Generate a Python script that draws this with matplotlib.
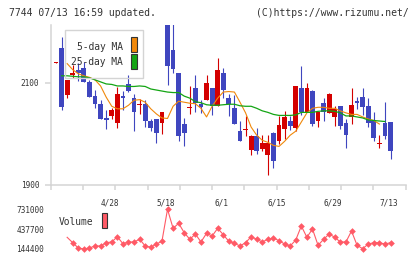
import numpy as np
import matplotlib
matplotlib.use("Agg")
import matplotlib.pyplot as plt
from matplotlib.patches import Rectangle

# ---------------- data ----------------
opens  = [2140, 2169, 2076, 2115, 2126, 2130, 2101, 2074, 2058, 2031,
          2035, 2021, 2074, 2098, 2070, 2058, 2058, 2025, 2028, 2021,
          2240, 2165, 2120, 2019, 2052, 2090, 2058, 2067, 2090, 2055,
          2120, 2070, 2050, 2005, 2008, 1968, 1995, 1969, 1958, 2001,
          1986, 2010, 2025, 2011, 2090, 2043, 2084, 2025, 2060, 2041,
          2033, 2054, 2021, 2033, 2064, 2072, 2054, 2025, 1981, 2021,
          2023]
closes = [2141, 2053, 2106, 2120, 2120, 2101, 2073, 2058, 2029, 2027,
          2047, 2078, 2071, 2085, 2043, 2059, 2025, 2011, 2002, 2043,
          2134, 2127, 1996, 2002, 2053, 2061, 2053, 2100, 2055, 2126,
          2086, 2058, 2019, 1986, 2009, 1995, 1966, 1981, 1981, 1946,
          2017, 2033, 2015, 2094, 2043, 2090, 2019, 2043, 2043, 2078,
          2049, 2015, 1998, 2056, 2060, 2052, 2021, 1992, 1982, 1996,
          1966]
highs  = [2141, 2190, 2106, 2136, 2139, 2142, 2106, 2086, 2066, 2047,
          2050, 2091, 2085, 2116, 2078, 2069, 2066, 2028, 2028, 2043,
          2260, 2260, 2120, 2030, 2093, 2116, 2066, 2116, 2090, 2150,
          2130, 2078, 2076, 2025, 2035, 1997, 2012, 1997, 1997, 2003,
          2035, 2045, 2035, 2094, 2134, 2100, 2086, 2043, 2070, 2080,
          2054, 2054, 2029, 2090, 2072, 2090, 2070, 2043, 1997, 2062,
          2023]
lows   = [2140, 2047, 2071, 2110, 2103, 2101, 2073, 2051, 2029, 2010,
          2028, 2011, 2047, 2083, 2006, 2039, 2013, 2005, 1981, 2000,
          2095, 2120, 1986, 1976, 2039, 2043, 2041, 2067, 2036, 2055,
          2070, 2035, 2019, 1986, 1996, 1958, 1961, 1965, 1918, 1932,
          1980, 1990, 2007, 2005, 2037, 2043, 2015, 2013, 2025, 2041,
          2015, 2010, 1972, 2019, 2049, 2037, 2013, 1986, 1972, 1990,
          1950]

nan = np.nan
ma5 = [nan, nan, 2138, 2126, 2118, 2114, 2111, 2106, 2094, 2072,
       2054, 2049, 2049, 2056, 2066, 2067, 2062, 2049, 2039, 2031,
       2030, 2054, 2064, 2062, 2060, 2059, 2050, 2033, 2054, 2070,
       2082, 2083, 2082, 2062, 2041, 2013, 1997, 1987, 1983, 1977,
       1975, 1985, 1997, 2005, 2023, 2041, 2050, 2052, 2052, 2050,
       2050, 2045, 2041, 2038, 2038, 2033, 2029, 2026, 2019, nan,
       nan]
ma25 = [nan, 2114, 2114, 2113, 2112, 2112, 2110, 2106, 2102, 2098,
        2097, 2094, 2094, 2093, 2093, 2094, 2093, 2088, 2086, 2084,
        2082, 2081, 2081, 2074, 2070, 2063, 2061, 2057, 2056, 2056,
        2057, 2058, 2058, 2055, 2054, 2054, 2050, 2045, 2042, 2038,
        2036, 2036, 2036, 2037, 2042, 2042, 2042, 2044, 2045, 2045,
        2044, 2041, 2035, 2035, 2033, 2031, 2027, 2026, 2025, 2024,
        nan]

volume = [nan, nan, 317000, 237500, 159000, 144400, 159000, 189000, 189000, 237500,
          248000, 326000, 223000, 248000, 248000, 288000, 189000, 170000, 218000, 258000,
          731000, 450000, 524000, 385000, 288000, 366000, 248000, 376000, 336000, 450000,
          356000, 258000, 228000, 189000, 237500, 326000, 288000, 248000, 288000, 307000,
          267000, 218000, 189000, 277000, 484000, 317000, 440000, 199000, 288000, 366000,
          317000, 248000, 248000, 410000, 199000, 149000, 218000, 237500, 237500, 218000,
          237500]

date_labels = ['4/28', '5/18', '6/1', '6/15', '6/29', '7/13']
date_index = [10, 20, 30, 40, 50, 60]
price_ticks = [1900, 2100]
vol_ticks = [144400, 437700, 731000]

# ---------------- style ----------------
W, H = 420, 259
RED = '#d40000'
BLUE = '#3f46bf'
ORANGE = '#f0880a'
GREEN = '#14a514'
VOLC = '#ff5a66'
GREY = '#d4d4d4'
TXT = '#333333'
MONO = 'DejaVu Sans Mono'

def fx(x):
    return x / W

def fy(y):
    return 1 - y / H

fig = plt.figure(figsize=(W / 100, H / 100), dpi=100)
fig.patch.set_facecolor('white')

x0, x1 = 50.7, 405.7
xlim = (-0.95, 62.72)

# ---------------- price panel ----------------
ax = fig.add_axes([fx(x0), fy(184.5), (x1 - x0) / W, (184.5 - 25) / H])
ax.set_xlim(*xlim)
ax.set_ylim(1900, 2214)

idx = np.arange(len(opens))
o = np.array(opens, float)
c = np.array(closes, float)
h = np.array(highs, float)
l = np.array(lows, float)
cols = [RED if cc >= oo else BLUE for oo, cc in zip(o, c)]

ax.vlines(idx, l, h, colors=cols, lw=0.8, zorder=2)
body_h = np.maximum(np.abs(c - o), 2.0)
body_b = np.where(np.abs(c - o) < 2.0, np.minimum(o, c) - 1.0, np.minimum(o, c))
ax.bar(idx, body_h, bottom=body_b, width=0.86, color=cols, lw=0, zorder=3)

ax.plot(idx, ma5, color=ORANGE, lw=0.8, zorder=4)
ax.plot(idx, ma25, color=GREEN, lw=0.9, zorder=4)

for s in ['top', 'right']:
    ax.spines[s].set_visible(False)
for s in ['left', 'bottom']:
    ax.spines[s].set_color(GREY)
    ax.spines[s].set_linewidth(1.1)

ax.set_yticks(price_ticks)
ax.set_yticklabels([str(t) for t in price_ticks])
ax.tick_params(axis='y', length=4.3, width=1.1, color=GREY, pad=3.9,
               labelsize=5.6, labelcolor=TXT)
for t in ax.get_yticklabels():
    t.set_family(MONO)

ax.set_xticks([d - 0.35 for d in date_index])
ax.set_xticklabels(date_labels)
ax.set_xticks(np.linspace(xlim[0], xlim[1], 12), minor=True)
ax.tick_params(axis='x', which='major', length=0, pad=10.0, labelsize=5.6, labelcolor=TXT)
ax.tick_params(axis='x', which='minor', length=3.3, width=1.1, color=GREY)
for t in ax.get_xticklabels():
    t.set_family(MONO)

# legend (drawn manually, transparent box)
fig.patches.append(Rectangle((fx(65), fy(77.7)), (143.3 - 65) / W, (77.7 - 30) / H,
                             transform=fig.transFigure, facecolor='none',
                             edgecolor=GREY, lw=1.0, zorder=10))
fig.text(fx(123), fy(46.7), '5-day MA', ha='right', va='center', family=MONO,
         fontsize=6.9, color=TXT, zorder=11)
fig.text(fx(123), fy(61.7), '25-day MA', ha='right', va='center', family=MONO,
         fontsize=6.9, color=TXT, zorder=11)
for yy, colr in [(37, ORANGE), (54.3, GREEN)]:
    fig.patches.append(Rectangle((fx(131), fy(yy + 15)), 6 / W, 15 / H,
                                 transform=fig.transFigure, facecolor=colr,
                                 edgecolor='#333333', lw=0.8, zorder=11))

# ---------------- volume panel ----------------
axv = fig.add_axes([fx(x0), fy(249), (x1 - x0) / W, (249 - 209.3) / H])
axv.set_xlim(*xlim)
axv.set_ylim(vol_ticks[0], vol_ticks[-1])
vol = np.array(volume, float)
valid = [i for i in range(len(vol)) if not np.isnan(vol[i])]
axv.plot(idx, vol, color=VOLC, lw=0.8, marker='D', markersize=3.4,
         markevery=valid[1:], markeredgewidth=0, clip_on=False)
for s in axv.spines.values():
    s.set_visible(False)
axv.set_xticks([])
axv.set_yticks(vol_ticks)
axv.set_yticklabels([str(t) for t in vol_ticks])
axv.tick_params(axis='y', length=0, pad=4.8, labelsize=5.6, labelcolor=TXT)
for t in axv.get_yticklabels():
    t.set_family(MONO)
axv.patch.set_alpha(0)

fig.text(fx(59), fy(222.3), 'Volume', ha='left', va='center', family=MONO,
         fontsize=6.9, color=TXT)
fig.patches.append(Rectangle((fx(101.7), fy(228)), 5.6 / W, 15 / H,
                             transform=fig.transFigure, facecolor=VOLC,
                             edgecolor='#333333', lw=0.8))

# ---------------- header ----------------
fig.text(fx(9), fy(13), '7744 07/13 16:59 updated.', ha='left', va='center',
         family=MONO, fontsize=7.05, color=TXT)
fig.text(fx(409), fy(13), '(C)https://www.rizumu.net/', ha='right', va='center',
         family=MONO, fontsize=7.05, color=TXT)

fig.savefig('out.png', dpi=100, facecolor='white')
